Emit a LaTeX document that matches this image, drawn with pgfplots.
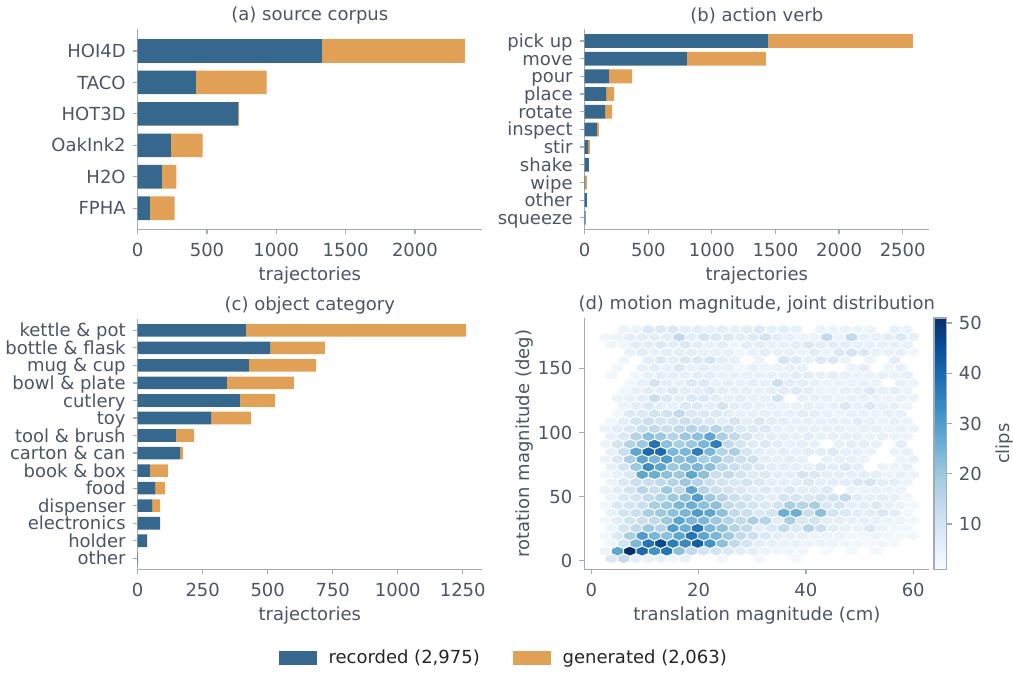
\documentclass[border=0pt]{standalone}
\usepackage{fontspec}
\setmainfont{DejaVu Sans}
\usepackage{pgfplots}
\usepackage{pgfplotstable}
\pgfplotsset{compat=1.18}
\definecolor{txt}{RGB}{74,85,104}
\definecolor{legtxt}{RGB}{38,38,38}
\definecolor{spine}{RGB}{160,170,185}
\definecolor{rec}{RGB}{54,104,141}
\definecolor{gen}{RGB}{224,160,86}

\pgfdeclareplotmark{hexcell}{%
 \pgfpathmoveto{\pgfqpoint{3.08pt}{1.27pt}}%
 \pgfpathlineto{\pgfqpoint{3.08pt}{-1.27pt}}%
 \pgfpathlineto{\pgfqpoint{0pt}{-2.55pt}}%
 \pgfpathlineto{\pgfqpoint{-3.08pt}{-1.27pt}}%
 \pgfpathlineto{\pgfqpoint{-3.08pt}{1.27pt}}%
 \pgfpathlineto{\pgfqpoint{0pt}{2.55pt}}%
 \pgfpathclose
 \pgfusepathqfillstroke}

\pgfplotsset{
  colormap={blues}{rgb255=(247,251,255) rgb255=(222,235,247) rgb255=(198,219,239) rgb255=(158,202,225) rgb255=(107,174,214) rgb255=(66,146,198) rgb255=(33,113,181) rgb255=(8,81,156) rgb255=(8,48,107)},
  base/.style={
    scale only axis,
    anchor=south west,
    axis lines*=left,
    axis line style={draw=spine, line width=0.6pt, -},
    tick align=outside,
    major tick length=2.5pt,
    tick style={draw=spine, line width=0.6pt},
    ticklabel style={font=\fontsize{9}{10.8}\selectfont, text=txt},
    xticklabel style={yshift=-1pt},
    yticklabel style={text height=6.56pt, text depth=0pt},
    label style={font=\fontsize{9}{10.8}\selectfont, text=txt},
    xlabel style={yshift=2pt},
    title style={font=\fontsize{9}{10.8}\selectfont, text=txt, yshift=-7pt},
    /pgf/number format/assume math mode=true,
    /pgf/number format/set thousands separator={},
  },
  barax/.style={
    base,
    xbar stacked,
    bar width=0.75,
    xmin=0,
    xlabel={trajectories},
  },
}

\pgfplotstableread{
pos rec gen
5 1328 1035
4 420 510
3 725 6
2 240 229
1 174 105
0 88 178
}\tabA

\pgfplotstableread{
pos rec gen
10 1441 1140
9 804 621
8 191 181
7 168 63
6 160 55
5 95 17
4 26 15
3 33 0
2 3 15
1 18 0
0 8 0
}\tabB

\pgfplotstableread{
pos rec gen
13 416 847
12 509 211
11 428 258
10 343 258
9 393 135
8 282 154
7 147 69
6 163 11
5 47 69
4 67 38
3 55 31
2 86 0
1 36 0
0 2 0
}\tabC

\begin{document}
\begin{tikzpicture}[font=\fontsize{9}{10.8}\selectfont]
\path[use as bounding box] (0,0) rectangle (506.5pt,337.5pt);

% (a)
\begin{axis}[barax,
  at={(68.85pt,222.85pt)}, width=172.15pt, height=100.15pt,
  xmax=2484, ymin=-0.67, ymax=5.70,
  xtick={0,500,1000,1500,2000},
  ytick={0,...,5},
  yticklabels={FPHA,H2O,OakInk2,HOT3D,TACO,HOI4D},
  title={(a) source corpus}]
\addplot[fill=rec, draw=none] table[x=rec, y=pos] {\tabA};
\addplot[fill=gen, draw=none] table[x=gen, y=pos] {\tabA};
\end{axis}

% (b)
\begin{axis}[barax,
  at={(292.35pt,222.85pt)}, width=172.15pt, height=100.15pt,
  xmax=2707, ymin=-0.65, ymax=10.68,
  bar width=0.78,
  xtick={0,500,1000,1500,2000,2500},
  ytick={0,...,10},
  yticklabels={squeeze,other,wipe,shake,stir,inspect,rotate,place,pour,move,pick up},
  title={(b) action verb}]
\addplot[fill=rec, draw=none] table[x=rec, y=pos] {\tabB};
\addplot[fill=gen, draw=none] table[x=gen, y=pos] {\tabB};
\end{axis}

% (c)
\begin{axis}[barax,
  at={(68.85pt,52.85pt)}, width=172.15pt, height=125pt,
  xmax=1324, ymin=-0.63, ymax=13.63,
  bar width=0.72,
  xtick={0,250,500,750,1000,1250},
  ytick={0,...,13},
  yticklabels={other,holder,electronics,dispenser,food,book \& box,carton \& can,tool \& brush,toy,cutlery,bowl \& plate,mug \& cup,bottle \& flask,kettle \& pot},
  title={(c) object category},
  legend style={at={(1.0668,-0.3536)}, anchor=center, draw=none, fill=none,
    legend columns=2, font=\fontsize{9}{10.8}\selectfont, text=legtxt,
    /tikz/every odd column/.append style={column sep=3.7pt},
    /tikz/every even column/.append style={column sep=14.7pt}},
  legend image code/.code={\fill[#1] (0pt,-3.5pt) rectangle (19pt,3.5pt);}]
\addplot[fill=rec, draw=none] table[x=rec, y=pos] {\tabC};
\addlegendentry{recorded (2,975)}
\addplot[fill=gen, draw=none] table[x=gen, y=pos] {\tabC};
\addlegendentry{generated (2,063)}
\end{axis}

% (d)
\begin{axis}[base,
  at={(292.15pt,52.85pt)}, width=172.5pt, height=125.65pt,
  xmin=-1.3, xmax=63, ymin=-6.7, ymax=189.3,
  xtick={0,20,40,60}, ytick={0,50,100,150},
  xlabel={translation magnitude (cm)},
  ylabel={rotation magnitude (deg)},
  ylabel style={yshift=-4.5pt},
  title={(d) motion magnitude, joint distribution},
  colormap name=blues,
  point meta min=1, point meta max=51,
  colorbar,
  colorbar style={
    at={(parent axis.north east)}, anchor=north west, xshift=-6.15pt,
    width=6.35pt,
    axis line style={draw=spine, line width=0.6pt},
    tick style={draw=spine, line width=0.6pt},
    tick align=outside, major tick length=2.5pt,
    ytick={10,20,30,40,50},
    ytick pos=right,
    yticklabel style={font=\fontsize{9}{10.8}\selectfont, text=txt, text height=6.56pt, text depth=0pt},
    ylabel={clips},
    ylabel style={font=\fontsize{9}{10.8}\selectfont, text=txt},
    /pgf/number format/assume math mode=true,
  }]
\addplot[scatter, only marks, mark=hexcell,
  point meta=explicit,
  scatter/use mapped color={draw=white, fill=mapped color},
  mark options={line width=0.5pt}]
 table[row sep=\\, x expr={2.6+2.296*\thisrow{k}+1.148*(1-mod(\thisrow{j},2))}, y expr={1.58+5.96*\thisrow{j}}, meta=c] {
j k c\\
0 0 8\\ 0 1 14\\ 0 2 6\\ 0 3 5\\ 0 4 5\\ 0 5 3\\ 0 6 4\\ 0 9 2\\ 0 12 2\\ 0 15 2\\
1 0 4\\ 1 1 28\\ 1 2 51\\ 1 3 40\\ 1 4 32\\ 1 5 38\\ 1 6 22\\ 1 7 14\\ 1 8 10\\ 1 9 10\\ 1 10 8\\ 1 11 6\\ 1 12 6\\ 1 13 4\\ 1 14 3\\ 1 15 3\\ 1 16 3\\ 1 18 2\\ 1 20 2\\ 1 22 3\\
2 0 3\\ 2 1 10\\ 2 2 24\\ 2 3 38\\ 2 4 46\\ 2 5 36\\ 2 6 34\\ 2 7 42\\ 2 8 32\\ 2 9 22\\ 2 10 14\\ 2 11 10\\ 2 12 6\\ 2 13 5\\ 2 14 4\\ 2 15 5\\ 2 16 4\\ 2 17 4\\ 2 18 4\\ 2 19 3\\ 2 20 3\\ 2 21 2\\ 2 22 3\\ 2 23 2\\
3 0 3\\ 3 1 8\\ 3 2 18\\ 3 3 30\\ 3 4 24\\ 3 5 22\\ 3 6 28\\ 3 7 38\\ 3 8 28\\ 3 9 24\\ 3 10 20\\ 3 11 14\\ 3 12 12\\ 3 13 8\\ 3 14 6\\ 3 15 5\\ 3 16 5\\ 3 17 4\\ 3 18 4\\ 3 19 4\\ 3 20 3\\ 3 21 3\\ 3 22 4\\ 3 23 3\\ 3 24 3\\ 3 25 3\\
4 0 4\\ 4 1 10\\ 4 2 14\\ 4 3 20\\ 4 4 16\\ 4 5 30\\ 4 6 26\\ 4 7 38\\ 4 8 24\\ 4 9 22\\ 4 10 16\\ 4 11 14\\ 4 12 6\\ 4 13 8\\ 4 14 14\\ 4 15 8\\ 4 16 16\\ 4 17 12\\ 4 18 6\\ 4 19 5\\ 4 20 4\\ 4 21 8\\ 4 22 4\\ 4 23 3\\ 4 24 3\\
5 0 3\\ 5 1 6\\ 5 2 10\\ 5 3 12\\ 5 4 14\\ 5 5 20\\ 5 6 28\\ 5 7 24\\ 5 8 24\\ 5 9 20\\ 5 10 16\\ 5 11 14\\ 5 12 18\\ 5 13 16\\ 5 14 6\\ 5 15 18\\ 5 16 8\\ 5 17 10\\ 5 18 6\\ 5 19 6\\ 5 20 5\\ 5 21 5\\ 5 22 5\\ 5 23 4\\ 5 24 4\\ 5 25 3\\
6 0 5\\ 6 1 10\\ 6 2 12\\ 6 3 18\\ 6 4 20\\ 6 5 22\\ 6 6 24\\ 6 7 30\\ 6 8 28\\ 6 9 22\\ 6 10 14\\ 6 11 12\\ 6 12 8\\ 6 13 10\\ 6 14 26\\ 6 15 26\\ 6 16 12\\ 6 17 22\\ 6 18 10\\ 6 19 8\\ 6 20 6\\ 6 21 6\\ 6 22 8\\ 6 23 6\\ 6 24 3\\
7 0 3\\ 7 1 8\\ 7 2 10\\ 7 3 12\\ 7 4 18\\ 7 5 20\\ 7 6 24\\ 7 7 26\\ 7 8 22\\ 7 9 22\\ 7 10 14\\ 7 11 12\\ 7 12 10\\ 7 13 8\\ 7 14 10\\ 7 15 18\\ 7 16 16\\ 7 17 18\\ 7 18 8\\ 7 19 10\\ 7 20 6\\ 7 21 6\\ 7 22 8\\ 7 23 5\\ 7 24 4\\ 7 25 3\\
8 0 4\\ 8 1 8\\ 8 2 10\\ 8 3 14\\ 8 4 16\\ 8 5 20\\ 8 6 22\\ 8 7 30\\ 8 8 20\\ 8 9 16\\ 8 10 12\\ 8 11 10\\ 8 12 8\\ 8 13 6\\ 8 14 10\\ 8 15 10\\ 8 16 8\\ 8 17 10\\ 8 18 10\\ 8 19 14\\ 8 20 6\\ 8 21 5\\ 8 22 6\\ 8 23 5\\ 8 24 3\\
9 0 4\\ 9 1 6\\ 9 2 10\\ 9 3 16\\ 9 4 12\\ 9 5 20\\ 9 6 14\\ 9 7 28\\ 9 8 16\\ 9 9 12\\ 9 10 10\\ 9 11 8\\ 9 12 6\\ 9 13 8\\ 9 14 6\\ 9 15 8\\ 9 16 6\\ 9 17 6\\ 9 18 8\\ 9 20 4\\ 9 21 4\\ 9 22 5\\ 9 23 4\\ 9 24 4\\
10 0 4\\ 10 1 8\\ 10 2 12\\ 10 3 12\\ 10 4 14\\ 10 5 16\\ 10 6 20\\ 10 7 16\\ 10 8 12\\ 10 9 10\\ 10 10 8\\ 10 11 10\\ 10 12 8\\ 10 13 6\\ 10 14 6\\ 10 15 6\\ 10 16 8\\ 10 17 6\\ 10 18 6\\ 10 19 6\\ 10 20 8\\ 10 21 10\\ 10 22 6\\ 10 23 6\\ 10 24 4\\
11 0 3\\ 11 1 5\\ 11 2 8\\ 11 3 28\\ 11 4 26\\ 11 5 22\\ 11 6 20\\ 11 7 28\\ 11 8 22\\ 11 9 12\\ 11 10 14\\ 11 11 10\\ 11 12 7\\ 11 13 8\\ 11 14 6\\ 11 15 6\\ 11 16 10\\ 11 17 8\\ 11 18 6\\ 11 19 6\\ 11 20 6\\ 11 21 6\\ 11 22 6\\ 11 23 4\\ 11 24 5\\ 11 25 4\\
12 0 5\\ 12 1 10\\ 12 2 20\\ 12 3 33\\ 12 4 28\\ 12 5 20\\ 12 6 22\\ 12 7 24\\ 12 8 22\\ 12 9 15\\ 12 10 12\\ 12 11 10\\ 12 12 8\\ 12 13 6\\ 12 14 6\\ 12 15 6\\ 12 16 5\\ 12 17 8\\ 12 18 6\\ 12 19 8\\ 12 20 6\\ 12 22 4\\ 12 23 4\\ 12 24 5\\
13 0 4\\ 13 1 8\\ 13 2 18\\ 13 3 28\\ 13 4 24\\ 13 5 30\\ 13 6 22\\ 13 7 24\\ 13 8 18\\ 13 9 20\\ 13 10 14\\ 13 11 12\\ 13 12 11\\ 13 13 6\\ 13 14 5\\ 13 15 6\\ 13 16 5\\ 13 18 5\\ 13 19 5\\ 13 20 5\\ 13 21 4\\ 13 24 4\\ 13 25 5\\
14 0 5\\ 14 1 12\\ 14 2 28\\ 14 3 40\\ 14 4 40\\ 14 5 24\\ 14 6 24\\ 14 7 36\\ 14 8 24\\ 14 9 16\\ 14 10 18\\ 14 11 10\\ 14 12 6\\ 14 13 5\\ 14 14 6\\ 14 15 5\\ 14 16 6\\ 14 17 6\\ 14 18 8\\ 14 19 5\\ 14 20 5\\ 14 21 4\\ 14 23 4\\ 14 24 5\\
15 0 4\\ 15 1 10\\ 15 2 16\\ 15 3 20\\ 15 4 38\\ 15 5 22\\ 15 6 18\\ 15 7 20\\ 15 8 24\\ 15 9 36\\ 15 10 14\\ 15 11 10\\ 15 12 7\\ 15 13 8\\ 15 14 6\\ 15 15 5\\ 15 16 6\\ 15 17 5\\ 15 19 5\\ 15 20 6\\ 15 21 6\\ 15 22 5\\ 15 24 6\\
16 0 5\\ 16 1 8\\ 16 2 16\\ 16 3 22\\ 16 4 20\\ 16 5 16\\ 16 6 20\\ 16 7 22\\ 16 8 28\\ 16 9 18\\ 16 10 14\\ 16 11 10\\ 16 12 6\\ 16 13 6\\ 16 14 5\\ 16 15 5\\ 16 16 6\\ 16 17 5\\ 16 18 5\\ 16 19 5\\ 16 20 5\\ 16 21 4\\ 16 22 5\\ 16 23 4\\ 16 24 4\\
17 0 4\\ 17 1 6\\ 17 2 8\\ 17 3 12\\ 17 4 14\\ 17 5 12\\ 17 6 14\\ 17 7 16\\ 17 8 14\\ 17 9 16\\ 17 10 12\\ 17 11 8\\ 17 12 7\\ 17 13 8\\ 17 14 5\\ 17 15 5\\ 17 16 5\\ 17 17 5\\ 17 18 5\\ 17 19 5\\ 17 20 4\\ 17 21 5\\ 17 22 5\\ 17 23 4\\ 17 24 5\\ 17 25 4\\
18 0 3\\ 18 1 6\\ 18 2 10\\ 18 3 12\\ 18 4 10\\ 18 5 10\\ 18 6 12\\ 18 7 10\\ 18 8 8\\ 18 9 6\\ 18 10 10\\ 18 11 6\\ 18 12 8\\ 18 13 6\\ 18 14 6\\ 18 15 5\\ 18 16 5\\ 18 17 5\\ 18 18 5\\ 18 19 5\\ 18 20 6\\ 18 21 5\\ 18 22 4\\ 18 23 5\\ 18 24 4\\
19 1 3\\ 19 2 8\\ 19 3 8\\ 19 4 10\\ 19 5 10\\ 19 6 14\\ 19 7 8\\ 19 8 8\\ 19 9 8\\ 19 10 6\\ 19 11 5\\ 19 12 5\\ 19 13 5\\ 19 14 5\\ 19 15 5\\ 19 16 6\\ 19 17 6\\ 19 18 5\\ 19 19 4\\ 19 20 5\\ 19 21 5\\ 19 22 4\\ 19 23 5\\ 19 24 5\\
20 1 4\\ 20 2 6\\ 20 3 8\\ 20 4 6\\ 20 5 5\\ 20 6 8\\ 20 7 8\\ 20 8 6\\ 20 9 10\\ 20 10 6\\ 20 11 6\\ 20 12 5\\ 20 13 5\\ 20 14 4\\ 20 15 5\\ 20 16 5\\ 20 17 5\\ 20 18 5\\ 20 19 8\\ 20 20 5\\ 20 21 8\\ 20 22 5\\ 20 23 5\\ 20 24 4\\
21 1 4\\ 21 2 5\\ 21 3 6\\ 21 4 12\\ 21 5 8\\ 21 6 6\\ 21 7 8\\ 21 8 8\\ 21 9 6\\ 21 10 5\\ 21 11 6\\ 21 12 5\\ 21 13 5\\ 21 14 10\\ 21 16 5\\ 21 17 5\\ 21 18 5\\ 21 19 4\\ 21 20 5\\ 21 21 5\\ 21 22 4\\ 21 23 4\\ 21 24 5\\ 21 25 4\\
22 1 3\\ 22 2 5\\ 22 3 6\\ 22 4 6\\ 22 5 8\\ 22 6 6\\ 22 7 6\\ 22 8 8\\ 22 9 6\\ 22 10 5\\ 22 11 5\\ 22 12 5\\ 22 13 6\\ 22 14 6\\ 22 15 8\\ 22 16 6\\ 22 17 4\\ 22 18 4\\ 22 19 5\\ 22 20 5\\ 22 21 8\\ 22 22 5\\ 22 23 6\\ 22 24 4\\
23 2 3\\ 23 3 5\\ 23 4 10\\ 23 5 6\\ 23 6 5\\ 23 7 8\\ 23 8 8\\ 23 9 5\\ 23 10 6\\ 23 11 5\\ 23 12 6\\ 23 13 5\\ 23 14 12\\ 23 15 6\\ 23 16 6\\ 23 17 5\\ 23 18 4\\ 23 19 4\\ 23 20 4\\ 23 21 5\\ 23 22 4\\ 23 24 5\\ 23 25 4\\
24 0 3\\ 24 2 3\\ 24 3 5\\ 24 4 6\\ 24 5 6\\ 24 6 5\\ 24 7 6\\ 24 8 6\\ 24 9 5\\ 24 10 5\\ 24 11 5\\ 24 12 5\\ 24 13 5\\ 24 14 5\\ 24 15 6\\ 24 16 6\\ 24 17 5\\ 24 18 6\\ 24 19 5\\ 24 20 4\\ 24 21 4\\ 24 22 5\\ 24 23 5\\ 24 24 5\\
25 1 3\\ 25 3 5\\ 25 4 6\\ 25 5 5\\ 25 6 8\\ 25 7 5\\ 25 8 6\\ 25 9 5\\ 25 10 5\\ 25 11 3\\ 25 12 5\\ 25 13 4\\ 25 14 4\\ 25 15 5\\ 25 16 5\\ 25 20 4\\ 25 21 6\\ 25 23 4\\ 25 24 5\\
26 1 3\\ 26 3 6\\ 26 4 8\\ 26 5 6\\ 26 6 8\\ 26 7 8\\ 26 8 10\\ 26 9 6\\ 26 10 5\\ 26 12 4\\ 26 14 10\\ 26 15 8\\ 26 16 5\\ 26 17 8\\ 26 18 8\\ 26 19 4\\ 26 21 4\\ 26 23 6\\
27 2 5\\ 27 3 6\\ 27 4 5\\ 27 5 6\\ 27 6 6\\ 27 7 6\\ 27 8 5\\ 27 9 5\\ 27 10 5\\ 27 11 3\\ 27 12 5\\ 27 13 6\\ 27 14 5\\ 27 15 5\\ 27 16 4\\ 27 17 6\\ 27 18 4\\ 27 19 8\\ 27 20 10\\ 27 21 8\\ 27 22 5\\ 27 23 5\\ 27 24 5\\ 27 25 3\\
28 0 3\\ 28 1 3\\ 28 2 6\\ 28 3 6\\ 28 4 8\\ 28 5 6\\ 28 6 8\\ 28 7 6\\ 28 8 5\\ 28 9 6\\ 28 10 3\\ 28 11 6\\ 28 12 6\\ 28 13 5\\ 28 14 5\\ 28 15 6\\ 28 16 8\\ 28 17 6\\ 28 18 6\\ 28 19 6\\ 28 20 5\\ 28 21 5\\ 28 22 5\\ 28 23 5\\ 28 24 5\\
29 0 3\\ 29 1 4\\ 29 2 6\\ 29 3 6\\ 29 4 6\\ 29 5 6\\ 29 6 14\\ 29 7 6\\ 29 8 10\\ 29 9 8\\ 29 10 8\\ 29 11 6\\ 29 12 7\\ 29 13 10\\ 29 14 6\\ 29 15 5\\ 29 16 4\\ 29 17 4\\ 29 18 14\\ 29 19 4\\ 29 20 14\\ 29 21 5\\ 29 22 5\\ 29 23 6\\ 29 24 8\\ 29 25 5\\
30 1 4\\ 30 2 4\\ 30 3 8\\ 30 4 8\\ 30 5 8\\ 30 6 6\\ 30 7 6\\ 30 8 5\\ 30 9 6\\ 30 10 5\\ 30 11 6\\ 30 12 8\\ 30 13 5\\ 30 14 6\\ 30 15 5\\ 30 17 4\\ 30 18 4\\ 30 19 4\\ 30 20 4\\ 30 21 4\\ 30 23 5\\ 30 24 4\\
};
\end{axis}
\end{tikzpicture}
\end{document}
